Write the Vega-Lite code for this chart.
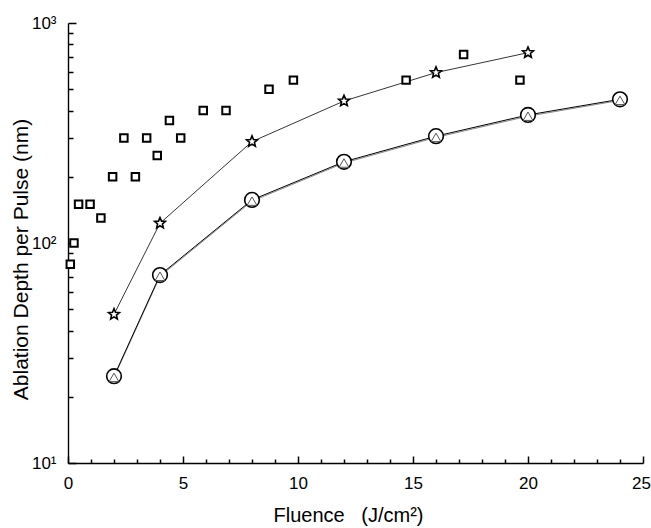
{
  "$schema": "https://vega.github.io/schema/vega-lite/v6.json",
  "width": 575,
  "height": 440,
  "autosize": "none",
  "padding": {"left": 68, "top": 23, "right": 8, "bottom": 65},
  "background": "white",
  "config": {
    "view": {"stroke": null},
    "font": "Liberation Sans",
    "axis": {"grid": false, "ticks": true, "domainColor": "black", "domainWidth": 1.4, "tickColor": "black", "tickWidth": 1.5, "labelColor": "black", "titleColor": "black", "labelFont": "Liberation Sans", "titleFont": "Liberation Sans", "labelFontSize": 17, "titleFontSize": 20, "titleFontWeight": "normal", "labelFlush": false, "labelOverlap": false}
  },
  "data": {
    "values": [
      {"series": "square", "x": 0.1, "y": 80},
      {"series": "square", "x": 0.26, "y": 100},
      {"series": "square", "x": 0.46, "y": 150},
      {"series": "square", "x": 0.96, "y": 150},
      {"series": "square", "x": 1.43, "y": 130},
      {"series": "square", "x": 1.94, "y": 200},
      {"series": "square", "x": 2.43, "y": 300},
      {"series": "square", "x": 2.93, "y": 200},
      {"series": "square", "x": 3.42, "y": 300},
      {"series": "square", "x": 3.88, "y": 250},
      {"series": "square", "x": 4.41, "y": 360},
      {"series": "square", "x": 4.9, "y": 300},
      {"series": "square", "x": 5.88, "y": 400},
      {"series": "square", "x": 6.87, "y": 400},
      {"series": "square", "x": 8.74, "y": 500},
      {"series": "square", "x": 9.8, "y": 550},
      {"series": "square", "x": 14.7, "y": 550},
      {"series": "square", "x": 17.2, "y": 720},
      {"series": "square", "x": 19.65, "y": 550},
      {"series": "star", "x": 2, "y": 47.4},
      {"series": "star", "x": 4, "y": 123},
      {"series": "star", "x": 8, "y": 289},
      {"series": "star", "x": 12, "y": 442},
      {"series": "star", "x": 16, "y": 595},
      {"series": "star", "x": 20, "y": 733},
      {"series": "circle", "x": 2, "y": 24.8},
      {"series": "circle", "x": 4, "y": 71.5},
      {"series": "circle", "x": 8, "y": 157},
      {"series": "circle", "x": 12, "y": 234},
      {"series": "circle", "x": 16, "y": 306},
      {"series": "circle", "x": 20, "y": 382},
      {"series": "circle", "x": 24, "y": 450},
      {"series": "triangle", "x": 2, "y": 24.5},
      {"series": "triangle", "x": 4, "y": 70.6},
      {"series": "triangle", "x": 8, "y": 155},
      {"series": "triangle", "x": 12, "y": 231},
      {"series": "triangle", "x": 16, "y": 302},
      {"series": "triangle", "x": 20, "y": 377},
      {"series": "triangle", "x": 24, "y": 445}
    ]
  },
  "layer": [
    {
      "encoding": {
        "x": {
          "field": "x", "type": "quantitative",
          "scale": {"domain": [0, 25], "nice": false, "zero": false},
          "axis": {
            "orient": "bottom",
            "offset": -7,
            "domain": false,
            "ticks": true,
            "title": "Fluence\u00a0\u00a0\u00a0(J/cm²)",
            "values": [0, 5, 10, 15, 20, 25],
            "labelOffset": {"condition": {"test": "datum.value == 25", "value": -2}, "value": 0},
            "tickSize": 7,
            "labelPadding": 12,
            "titleX": 280,
            "titleY": 59,
            "titleBaseline": "middle",
            "titleAlign": "center"
          }
        },
        "y": {
          "field": "y", "type": "quantitative",
          "scale": {"type": "log", "domain": [10, 1000], "nice": false},
          "axis": {
            "orient": "left",
            "offset": -8,
            "domain": false,
            "ticks": true,
            "title": "Ablation Depth per Pulse (nm)",
            "values": [10, 100, 1000],
            "labelExpr": "datum.value == 10 ? '10¹' : datum.value == 100 ? '10²' : datum.value == 1000 ? '10³' : ''",
            "tickSize": 8,
            "labelPadding": 12,
            "titleFontSize": 21,
            "titleX": -55,
            "titleY": 236,
            "titleBaseline": "middle",
            "titleAlign": "center",
            "titleAngle": -90
          }
        }
      },
      "layer": [
        {
          "transform": [{"filter": "datum.series == 'star'"}],
          "mark": {"type": "line", "color": "black", "strokeWidth": 0.8},
          "encoding": {}
        },
        {
          "transform": [{"filter": "datum.series == 'triangle'"}],
          "mark": {"type": "line", "color": "#888888", "strokeWidth": 1},
          "encoding": {}
        },
        {
          "transform": [{"filter": "datum.series == 'circle'"}],
          "mark": {"type": "line", "color": "black", "strokeWidth": 1},
          "encoding": {}
        },
        {
          "transform": [{"filter": "datum.series == 'square'"}],
          "mark": {"type": "point", "shape": "square", "size": 56, "filled": false, "stroke": "black", "strokeWidth": 2, "fill": "white", "fillOpacity": 1, "opacity": 1}
        },
        {
          "transform": [{"filter": "datum.series == 'star'"}],
          "mark": {"type": "point", "shape": "M0,-1L0.265,-0.364L0.951,-0.309L0.428,0.139L0.588,0.809L0,0.45L-0.588,0.809L-0.428,0.139L-0.951,-0.309L-0.265,-0.364Z", "size": 130, "filled": false, "stroke": "black", "strokeWidth": 1.6, "fill": "white", "fillOpacity": 1, "opacity": 1}
        },
        {
          "transform": [{"filter": "datum.series == 'circle'"}],
          "mark": {"type": "point", "shape": "circle", "size": 215, "filled": false, "stroke": "black", "strokeWidth": 1.6, "fill": "white", "fillOpacity": 1, "opacity": 1}
        },
        {
          "transform": [{"filter": "datum.series == 'triangle'"}],
          "mark": {"type": "point", "shape": "triangle-up", "size": 95, "filled": false, "stroke": "#555555", "strokeWidth": 1, "opacity": 1}
        }
      ]
    },
    {
      "mark": {"type": "point", "opacity": 0},
      "encoding": {
        "x": {
          "field": "x", "type": "quantitative",
          "scale": {"domain": [0, 25], "nice": false, "zero": false},
          "axis": {
            "orient": "bottom",
            "offset": -4,
            "title": null,
            "values": [1, 2, 3, 4, 6, 7, 8, 9, 11, 12, 13, 14, 16, 17, 18, 19, 21, 22, 23, 24],
            "labels": false,
            "domain": false,
            "ticks": true,
            "tickSize": 4
          }
        },
        "y": {
          "field": "y", "type": "quantitative",
          "scale": {"type": "log", "domain": [10, 1000], "nice": false},
          "axis": {
            "orient": "left",
            "offset": -5,
            "title": null,
            "values": [20, 30, 40, 50, 60, 70, 80, 90, 200, 300, 400, 500, 600, 700, 800, 900],
            "labels": false,
            "domain": false,
            "ticks": true,
            "tickSize": 5
          }
        }
      }
    },
    {
      "mark": {"type": "point", "opacity": 0},
      "encoding": {
        "x": {
          "field": "x", "type": "quantitative",
          "scale": {"domain": [0, 25], "nice": false, "zero": false},
          "axis": {"orient": "bottom", "title": null, "labels": false, "ticks": false, "domain": true}
        },
        "y": {
          "field": "y", "type": "quantitative",
          "scale": {"type": "log", "domain": [10, 1000], "nice": false},
          "axis": {"orient": "left", "title": null, "labels": false, "ticks": false, "domain": true}
        }
      }
    }
  ],
  "resolve": {"axis": {"x": "independent", "y": "independent"}}
}
